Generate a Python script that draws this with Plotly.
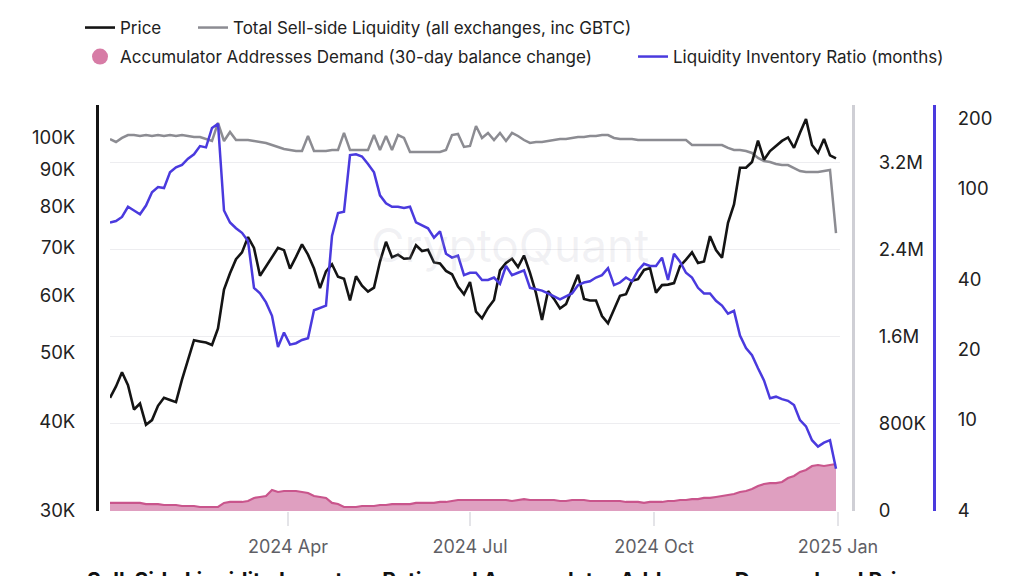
import pandas as pd
import plotly.graph_objects as go

# ---- data, every 3 days from 2024-01-03 ----
dates = pd.date_range("2024-01-03", periods=122, freq="3D")

price_k = [
    43.2, 44.8, 46.9, 45.0, 41.6, 42.4, 39.6, 40.2, 42.1, 43.2,
    42.9, 42.6, 45.8, 49.0, 52.0, 51.8, 51.6, 51.2, 54.0, 61.2,
    64.5, 67.5, 69.0, 72.5, 70.0, 64.0, 66.0, 68.0, 70.0, 69.5,
    65.5, 68.0, 70.8, 68.5, 65.5, 61.5, 64.9, 66.4, 63.8, 63.4,
    59.1, 63.9, 62.0, 60.8, 61.6, 67.0, 71.4, 67.9, 68.5, 67.6,
    67.7, 70.6, 69.3, 69.6, 66.8, 66.6, 65.0, 64.3, 61.8, 60.3,
    62.7, 57.0, 55.8, 57.7, 59.2, 65.1, 66.7, 67.6, 65.8, 68.3,
    64.6, 60.5, 55.5, 60.9, 59.4, 57.6, 58.4, 61.2, 64.2, 59.4,
    59.1, 59.1, 56.2, 54.9, 57.3, 60.0, 60.3, 63.0, 63.3, 65.2,
    65.6, 60.6, 62.1, 62.2, 62.5, 66.0, 67.4, 69.0, 66.7, 67.0,
    72.7, 69.5, 67.8, 75.9, 80.5, 90.6, 90.6, 92.3, 98.9, 93.0,
    95.6, 97.3, 98.8, 99.9, 96.6, 101.4, 106.0, 97.5, 95.1, 99.4,
    94.3, 93.4,
]

liquidity_m = [
    3.420, 3.393, 3.430, 3.457, 3.457, 3.448, 3.457, 3.448, 3.457, 3.448,
    3.457, 3.448, 3.457, 3.448, 3.439, 3.439, 3.420, 3.402, 3.568, 3.402,
    3.485, 3.411, 3.411, 3.411, 3.402, 3.393, 3.384, 3.365, 3.347, 3.329,
    3.320, 3.310, 3.310, 3.448, 3.310, 3.310, 3.310, 3.320, 3.320, 3.476,
    3.320, 3.320, 3.320, 3.320, 3.457, 3.320, 3.448, 3.320, 3.457, 3.430,
    3.301, 3.301, 3.301, 3.301, 3.301, 3.301, 3.320, 3.457, 3.467, 3.347,
    3.356, 3.540, 3.430, 3.476, 3.411, 3.476, 3.402, 3.476, 3.448, 3.411,
    3.384, 3.393, 3.393, 3.402, 3.411, 3.420, 3.420, 3.430, 3.439, 3.439,
    3.448, 3.448, 3.457, 3.457, 3.430, 3.420, 3.420, 3.420, 3.411, 3.411,
    3.411, 3.411, 3.411, 3.411, 3.411, 3.411, 3.411, 3.365, 3.365, 3.365,
    3.365, 3.365, 3.365, 3.338, 3.320, 3.320, 3.310, 3.292, 3.246, 3.218,
    3.209, 3.191, 3.181, 3.181, 3.154, 3.126, 3.117, 3.117, 3.117, 3.126,
    3.136, 2.556,
]

accum_m = [
    0.074, 0.074, 0.074, 0.074, 0.074, 0.074, 0.064, 0.064, 0.064, 0.055,
    0.055, 0.055, 0.046, 0.046, 0.046, 0.037, 0.037, 0.037, 0.037, 0.074,
    0.083, 0.083, 0.083, 0.092, 0.120, 0.129, 0.138, 0.193, 0.175, 0.184,
    0.184, 0.184, 0.175, 0.166, 0.138, 0.129, 0.120, 0.074, 0.064, 0.037,
    0.037, 0.037, 0.046, 0.046, 0.046, 0.055, 0.055, 0.064, 0.064, 0.064,
    0.064, 0.074, 0.074, 0.074, 0.074, 0.083, 0.083, 0.092, 0.101, 0.101,
    0.101, 0.101, 0.101, 0.101, 0.101, 0.101, 0.101, 0.092, 0.101, 0.110,
    0.101, 0.101, 0.101, 0.101, 0.101, 0.092, 0.092, 0.101, 0.101, 0.101,
    0.092, 0.092, 0.092, 0.092, 0.092, 0.092, 0.083, 0.083, 0.083, 0.074,
    0.083, 0.083, 0.083, 0.092, 0.092, 0.101, 0.101, 0.110, 0.110, 0.120,
    0.120, 0.129, 0.138, 0.147, 0.156, 0.175, 0.184, 0.202, 0.230, 0.248,
    0.257, 0.257, 0.267, 0.303, 0.322, 0.359, 0.377, 0.414, 0.423, 0.414,
    0.423, 0.432,
]

ratio_months = [
    71, 72, 75, 83, 80, 77, 84, 96, 101, 100,
    117, 123, 126, 134, 140, 152, 150, 182, 190, 80,
    71, 67, 64, 59, 37, 35, 32, 28, 20.5, 23.7,
    21, 21.3, 22, 22.4, 29.6, 30.3, 31, 62, 78, 79,
    139, 140, 137, 127, 117, 93, 86, 83, 83, 82,
    83, 71, 69, 67, 61, 65, 52, 50, 51, 42,
    43, 43, 40, 40, 41, 38.5, 46, 42, 43, 44,
    37, 36.5, 36, 35, 34, 33, 34, 35, 38, 39,
    39.5, 41, 42, 45, 38, 39, 41, 39.5, 44, 47,
    46, 46, 50, 40, 52, 48, 43, 41, 37, 35,
    35, 32.5, 31, 28.6, 29.4, 23, 20.3, 18.9, 16.6, 14.7,
    12.3, 12.5, 12.2, 12.0, 11.5, 9.9, 9.3, 8.1, 7.6, 7.9,
    8.1, 6.1,
]

for s in (price_k, liquidity_m, accum_m, ratio_months):
    assert len(s) == len(dates), len(s)

price_ticks = [30000, 40000, 50000, 60000, 70000, 80000, 90000, 100000]
price_tick_text = ["30K", "40K", "50K", "60K", "70K", "80K", "90K", "100K"]
liq_ticks = [0, 800000, 1600000, 2400000, 3200000]
liq_tick_text = ["0", "800K", "1.6M", "2.4M", "3.2M"]
ratio_ticks = [4, 10, 20, 40, 100, 200]
ratio_tick_text = ["4", "10", "20", "40", "100", "200"]
x_ticks = ["2024-04-01", "2024-07-01", "2024-10-01", "2025-01-01"]
x_tick_text = ["2024 Apr", "2024 Jul", "2024 Oct", "2025 Jan"]

caption = "Sell-Side Liquidity Inventory Ratio and Accumulator Addresses Demand and Price"

# ---- styling ----
W, H = 1012, 576
OFF = 8  # page body margin offset of the figure
FONT = "Inter"
BLACK = "#141414"
GRAY = "#8c8c92"
PURPLE = "#4a3ade"
PINK_LINE = "#c9558c"
PINK_FILL = "rgba(214,132,174,0.78)"


def fx(p):
    return (p - OFF) / W


def fy(p):
    return 1 - (p - OFF) / H


fig = go.Figure()

fig.add_trace(go.Scatter(
    x=dates, y=[v * 1e6 for v in accum_m], yaxis="y", mode="lines",
    fill="tozeroy", fillcolor=PINK_FILL, line=dict(color=PINK_LINE, width=2.2),
    showlegend=False, hoverinfo="skip"))
fig.add_trace(go.Scatter(
    x=dates, y=[v * 1e6 for v in liquidity_m], yaxis="y", mode="lines",
    line=dict(color=GRAY, width=2.5),
    name="Total Sell-side Liquidity (all exchanges, inc GBTC)",
    legend="legend", legendrank=2))
fig.add_trace(go.Scatter(
    x=dates, y=[v * 1000 for v in price_k], yaxis="y2", mode="lines",
    line=dict(color=BLACK, width=2.6), name="Price",
    legend="legend", legendrank=1, legendwidth=68))
fig.add_trace(go.Scatter(
    x=[None], y=[None], mode="markers",
    marker=dict(color="#d77ca6", size=16, symbol="circle"),
    name="Accumulator Addresses Demand (30-day balance change)",
    legend="legend2", legendrank=1, legendwidth=508))
fig.add_trace(go.Scatter(
    x=dates, y=ratio_months, yaxis="y3", mode="lines",
    line=dict(color=PURPLE, width=2.5),
    name="Liquidity Inventory Ratio (months)",
    legend="legend2", legendrank=2))

tickfont = dict(family=FONT, size=18.5, color="#222222")
ydomain = [fy(511), fy(105)]
legfont = dict(family=FONT, size=17, color="#222222")

fig.update_layout(
    width=W, height=H,
    margin=dict(l=0, r=0, t=0, b=0, autoexpand=False),
    paper_bgcolor="white", plot_bgcolor="white",
    font=dict(family=FONT, size=16, color="#222222"),
    hovermode=False,
    xaxis=dict(
        domain=[fx(110), fx(840)], type="date",
        range=["2024-01-03", "2025-01-02"],
        tickvals=x_ticks, ticktext=x_tick_text,
        ticks="outside", ticklen=14, tickwidth=1.5, tickcolor="#e4e4e8",
        ticklabelstandoff=5,
        tickfont=dict(family=FONT, size=18, color="#5f5f66"),
        showgrid=False, showline=False, zeroline=False, anchor="y",
        automargin=False,
    ),
    yaxis=dict(
        domain=ydomain, range=[0, 3733000],
        anchor="free", position=fx(853), side="right",
        tickvals=liq_ticks, ticktext=liq_tick_text, tickfont=tickfont,
        ticks="", ticklabelstandoff=20,
        showline=True, linecolor="#cfcfd5", linewidth=3,
        showgrid=True, gridcolor="#ededf0", gridwidth=1, zeroline=False,
        automargin=False,
    ),
    yaxis2=dict(
        overlaying="y", type="log", range=[4.47712, 5.04497],
        anchor="free", position=fx(97), side="left",
        tickvals=price_ticks, ticktext=price_tick_text, tickfont=tickfont,
        ticks="", ticklabelstandoff=17,
        showline=True, linecolor=BLACK, linewidth=3,
        showgrid=False, zeroline=False, automargin=False,
    ),
    yaxis3=dict(
        overlaying="y", type="log", range=[0.60206, 2.35966],
        anchor="free", position=fx(934), side="right",
        tickvals=ratio_ticks, ticktext=ratio_tick_text, tickfont=tickfont,
        ticks="", ticklabelstandoff=18,
        showline=True, linecolor=PURPLE, linewidth=3,
        showgrid=False, zeroline=False, automargin=False,
    ),
    legend=dict(
        orientation="h", x=fx(80), y=fy(10), xanchor="left", yanchor="top",
        font=legfont, bgcolor="rgba(0,0,0,0)", traceorder="normal",
    ),
    legend2=dict(
        orientation="h", x=fx(80), y=fy(39), xanchor="left", yanchor="top",
        font=legfont, bgcolor="rgba(0,0,0,0)", traceorder="normal",
    ),
    annotations=[
        dict(text="CryptoQuant", x=fx(510), y=fy(245), xref="paper", yref="paper",
             showarrow=False, font=dict(family=FONT, size=46, color="rgba(170,170,185,0.16)")),
        dict(text="<b>" + caption + "</b>",
             x=fx(85), y=fy(566), xref="paper", yref="paper", xanchor="left", yanchor="top",
             showarrow=False, font=dict(family=FONT, size=21, color="#111111")),
    ],
)

fig.write_html("out.html")
